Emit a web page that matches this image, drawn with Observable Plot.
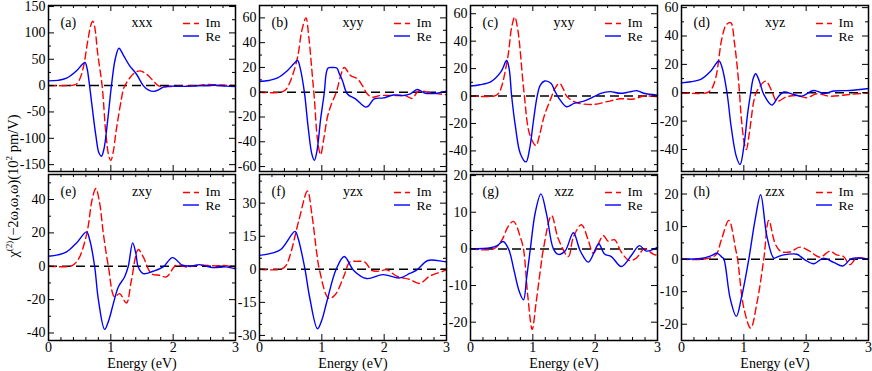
<!DOCTYPE html>
<html><head><meta charset="utf-8">
<script src="https://cdn.jsdelivr.net/npm/d3@7"></script>
<script src="https://cdn.jsdelivr.net/npm/@observablehq/plot@0.6"></script>
<style>
body{margin:0;background:#fff;}
#chart{position:relative;width:872px;height:371px;font-family:'Liberation Serif','Times New Roman','DejaVu Serif',serif;background:#fff;overflow:hidden;}
#chart svg{position:absolute;overflow:visible;}
#chart svg text{font-family:'Liberation Serif','Times New Roman','DejaVu Serif',serif;}
#ylab{position:absolute;left:13px;top:186px;transform:translate(-50%,-50%) rotate(-90deg);white-space:nowrap;font-size:14.5px;line-height:14px;font-family:'Liberation Serif','Times New Roman','DejaVu Serif',serif;}
#ylab sup{font-size:9px;vertical-align:6px;line-height:0;}
</style></head><body>
<div id="chart"><div id="ylab">χ<sup>(2)</sup>(−2ω,ω,ω)(10<sup>2</sup> pm/V)</div></div>
<script>
// ---- data: [energy (eV), value (10^2 pm/V)] ----
const reA = [[0,9],[0.15,10],[0.29,14],[0.45,28],[0.54,40],[0.585,44],[0.62,32],[0.65,8],[0.7,-40],[0.76,-95],[0.81,-128],[0.85,-134],[0.89,-120],[0.95,-65],[1.01,0],[1.07,50],[1.13,71],[1.2,58],[1.3,38],[1.41,22],[1.52,0],[1.6,-8],[1.69,-11],[1.78,-7],[1.84,-3],[1.95,-1],[2.1,-1.5],[2.3,-1],[2.5,0],[2.7,0.5],[2.85,-1],[3,-2]];
const imA = [[0,0],[0.3,0],[0.4,1],[0.45,3],[0.5,12],[0.56,35],[0.63,85],[0.68,115],[0.71,122],[0.74,112],[0.79,60],[0.86,0],[0.92,-90],[0.97,-135],[1.0,-142],[1.04,-125],[1.08,-90],[1.12,-60],[1.17,-25],[1.21,-4],[1.3,14],[1.38,24],[1.46,28],[1.53,25],[1.6,19],[1.68,9],[1.76,0],[1.85,-2],[2.0,-1.5],[2.2,-1],[2.4,0.5],[2.55,2],[2.7,1.5],[2.85,1],[3,0]];
const reB = [[0,8.6],[0.15,9.5],[0.29,11.6],[0.45,17.6],[0.55,23],[0.61,25.7],[0.65,20],[0.72,0],[0.78,-28],[0.84,-50],[0.88,-55],[0.92,-48],[0.98,-22],[1.04,0],[1.07,15],[1.1,19.5],[1.17,20],[1.24,19.5],[1.28,15],[1.33,9.5],[1.41,-1.4],[1.54,-5.4],[1.63,-9.5],[1.7,-12],[1.75,-11],[1.84,-5.4],[1.99,-4.6],[2.15,-2.2],[2.31,-2.7],[2.42,-1.4],[2.53,2.2],[2.66,-0.8],[2.85,-0.8],[3,0.8]];
const imB = [[0,0],[0.35,0],[0.42,2],[0.5,9.5],[0.61,28],[0.68,50],[0.745,60],[0.79,45],[0.85,12],[0.88,-5],[0.93,-38],[0.98,-50.5],[1.03,-38],[1.09,-20],[1.14,-11.6],[1.24,1.4],[1.3,13],[1.36,20],[1.46,13.5],[1.57,10.8],[1.65,5.4],[1.73,-1.4],[1.81,-4],[1.94,-2.7],[2.21,-2.7],[2.35,-3],[2.45,-5],[2.55,0.8],[2.74,-0.5],[2.9,-1.5],[3,-2]];
const reC = [[0,7.3],[0.15,8.2],[0.33,10.5],[0.49,17.8],[0.58,25.9],[0.62,20],[0.66,0],[0.72,-22],[0.8,-42],[0.89,-48],[0.95,-38],[1.01,-18],[1.07,0],[1.12,8],[1.19,11],[1.29,9.3],[1.35,4],[1.42,-1.7],[1.54,-7.8],[1.66,-5.4],[1.82,-3.7],[1.98,-0.5],[2.09,2],[2.24,3.2],[2.4,2],[2.55,3],[2.67,3.9],[2.78,2],[3,0.7]];
const imC = [[0,0],[0.38,0],[0.44,1.5],[0.49,5.6],[0.6,28.8],[0.66,50],[0.71,57.6],[0.76,48],[0.86,2],[0.95,-28],[1.05,-36],[1.11,-28],[1.18,-15],[1.29,-1.7],[1.36,6],[1.43,9.3],[1.49,5],[1.55,-0.5],[1.71,-4.9],[1.98,-6.1],[2.19,-4.1],[2.4,-2],[2.62,-2.2],[2.78,0],[3,-0.5]];
const reD = [[0,7],[0.15,7.8],[0.31,9.4],[0.47,15.3],[0.6,22.4],[0.65,18],[0.73,0],[0.8,-25],[0.88,-45],[0.94,-50.6],[1.0,-38],[1.06,-15],[1.11,0],[1.15,10],[1.19,13.4],[1.25,8],[1.32,-1.2],[1.45,-8.7],[1.55,-3],[1.64,0.5],[1.8,-1.2],[1.93,-2.4],[2.12,1.6],[2.28,-0.5],[2.44,1.2],[2.7,1.6],[3,3]];
const imD = [[0,0],[0.41,0],[0.48,2.5],[0.55,10.6],[0.65,38.8],[0.72,48],[0.79,49.4],[0.85,35],[0.92,6],[0.96,-18],[1.01,-36],[1.04,-40],[1.09,-28],[1.16,-5.9],[1.21,1.2],[1.35,8.2],[1.44,2],[1.53,-5.9],[1.69,-2.8],[1.85,-2],[2.01,-3.5],[2.17,-0.7],[2.38,-2.4],[2.7,-1.2],[3,0]];
const reE = [[0,6],[0.15,6.8],[0.29,8.6],[0.45,14],[0.61,20.6],[0.66,16],[0.74,0],[0.8,-20],[0.9,-37.8],[0.97,-32],[1.04,-22.4],[1.12,-12.4],[1.22,-6.4],[1.28,0],[1.35,14],[1.4,8],[1.44,-0.4],[1.52,-4.4],[1.68,-3],[1.84,-0.4],[1.99,5.2],[2.15,0.6],[2.31,0.2],[2.42,1],[2.63,-0.8],[2.85,-0.4],[3,-1.6]];
const imE = [[0,0],[0.35,0],[0.42,1.5],[0.5,5.6],[0.62,20.6],[0.7,40],[0.76,46.6],[0.82,38],[0.88,19.6],[0.96,0],[1.06,-18.4],[1.14,-16.4],[1.25,-22],[1.33,-8.4],[1.44,10],[1.52,5.6],[1.65,-4.4],[1.78,-5.4],[1.89,-6.4],[2.05,0.6],[2.21,-0.4],[2.42,0.6],[2.69,0.2],[2.85,0.4],[3,-1.4]];
const reF = [[0,6.3],[0.15,7],[0.34,9],[0.57,17.2],[0.62,14],[0.73,0],[0.8,-12],[0.93,-27],[1.0,-23],[1.08,-14.7],[1.23,0],[1.36,5.8],[1.51,-0.5],[1.72,-4.2],[1.98,-2.4],[2.25,-3.9],[2.41,-1.9],[2.52,-0.4],[2.7,4],[2.94,3.6],[3,3.4]];
const imF = [[0,0],[0.34,0],[0.42,1.5],[0.49,6.3],[0.63,22],[0.77,35.5],[0.84,25],[0.92,7],[0.96,0],[1.11,-13.2],[1.21,-11.7],[1.35,-3.4],[1.45,3.3],[1.56,3.6],[1.69,3.3],[1.8,-0.5],[1.93,-0.8],[2.04,-0.2],[2.2,-3.1],[2.41,-4.6],[2.57,-6.4],[2.73,-3.1],[2.94,-0.9],[3,-0.2]];
const reG = [[0,0],[0.32,0.3],[0.43,0.9],[0.52,2],[0.61,0],[0.7,-6],[0.78,-11.5],[0.85,-13.9],[0.9,-8],[0.96,0],[1.04,10],[1.13,15],[1.22,9.5],[1.33,0],[1.41,-1.5],[1.52,-0.5],[1.65,4.4],[1.76,-0.5],[1.89,-3.6],[2.02,0.5],[2.06,1.4],[2.15,-1.4],[2.26,-2.1],[2.42,-4.8],[2.58,-1.8],[2.71,0.9],[2.82,-0.6],[3,0.4]];
const imG = [[0,0],[0.37,0],[0.5,2.3],[0.6,6],[0.69,7.5],[0.8,3.2],[0.85,0],[0.92,-13],[0.99,-22],[1.05,-15],[1.12,-5.9],[1.17,0],[1.3,9.1],[1.41,2.7],[1.57,-2.1],[1.65,3.2],[1.78,6.6],[1.89,2.3],[1.97,-1.2],[2.13,3.6],[2.21,2.1],[2.31,2.5],[2.42,-0.9],[2.55,-3.2],[2.66,-2.5],[2.79,0],[2.93,-1.4],[3,-1.8]];
const reH = [[0,0],[0.31,0.2],[0.47,1],[0.57,1.8],[0.65,0.6],[0.68,0],[0.78,-12],[0.88,-17.6],[0.96,-12],[1.08,0],[1.18,12],[1.27,19.8],[1.37,7],[1.48,0.3],[1.53,0.6],[1.64,1.3],[1.85,1.5],[1.98,-0.2],[2.12,-1.4],[2.28,0.3],[2.44,-1],[2.59,-2.1],[2.7,-0.2],[2.76,0.3],[3,0]];
const imH = [[0,0],[0.36,0],[0.55,1.3],[0.64,6],[0.76,11.9],[0.87,2.9],[0.9,0],[1.0,-15],[1.11,-21.2],[1.21,-13.5],[1.32,0],[1.4,11.9],[1.5,4.9],[1.59,2.4],[1.74,2.2],[1.9,3.7],[2.06,2.4],[2.22,0.6],[2.38,2.4],[2.49,1.3],[2.6,0.8],[2.7,-1.7],[2.81,0.3],[3,0]];

// ---- tick labels / axis ranges ----
const energyTicks = [0, 1, 2, 3];
const ticksA = [-150, -100, -50, 0, 50, 100, 150];
const ticksB = [-60, -40, -20, 0, 20, 40, 60];
const ticksC = [-40, -20, 0, 20, 40, 60];
const ticksD = [-40, -20, 0, 20, 40, 60];
const ticksE = [-40, -20, 0, 20, 40];
const ticksF = [-30, -15, 0, 15, 30];
const ticksG = [-20, -10, 0, 10, 20];
const ticksH = [-20, -10, 0, 10, 20];
const panelLabels = ["(a)", "(b)", "(c)", "(d)", "(e)", "(f)", "(g)", "(h)"];
const components = ["xxx", "xyy", "yxy", "xyz", "zxy", "yzx", "xzz", "zzx"];
const seriesNames = ["Im", "Re"];
const xLabel = "Energy (eV)";

const panels = [
  {re: reA, im: imA, ticks: ticksA, minor: 25, dom: [-163, 152]},
  {re: reB, im: imB, ticks: ticksB, minor: 10, dom: [-64, 70]},
  {re: reC, im: imC, ticks: ticksC, minor: 10, dom: [-55, 66]},
  {re: reD, im: imD, ticks: ticksD, minor: 10, dom: [-55.5, 61.5]},
  {re: reE, im: imE, ticks: ticksE, minor: 10, dom: [-44.5, 55]},
  {re: reF, im: imF, ticks: ticksF, minor: 5, dom: [-32.3, 43]},
  {re: reG, im: imG, ticks: ticksG, minor: 5, dom: [-25, 20.3]},
  {re: reH, im: imH, ticks: ticksH, minor: 5, dom: [-25, 26]}
];

// ---- layout ----
const FONT = "'Liberation Serif', 'Times New Roman', 'DejaVu Serif', serif";
const frameLefts = [48, 258.5, 469.5, 681];
const frameTops = [5, 174];
const W = 187, H = 166;
const RED = "#ff0000", BLUE = "#0000ff";
const chart = document.getElementById("chart");

panels.forEach((p, i) => {
  const row = Math.floor(i / 4), col = i % 4;
  const mL = 34, mR = 4, mT = 4, mB = row ? 34 : 4;
  const [y0, y1] = p.dom;
  const ux = 3 / W, uy = (y1 - y0) / H;
  const xAt = px => px * ux;
  const yAt = px => y1 - px * uy;
  const majorLen = 6, minorLen = 3;
  const xMinor = d3.range(0.2, 3, 0.2).filter(v => Math.abs(v - Math.round(v)) > 1e-6);
  const yMinor = d3.range(Math.ceil(y0 / p.minor) * p.minor, y1, p.minor).filter(v => !p.ticks.includes(v));
  const tk = {stroke: "black", strokeWidth: 1};
  const txt = {fontSize: 14, fontFamily: FONT, lineAnchor: "middle"};
  const marks = [
    Plot.ruleY([0], {stroke: "black", strokeWidth: 1.5, strokeDasharray: "9,5"}),
    Plot.line(p.im, {x: d => d[0], y: d => d[1], stroke: RED, strokeWidth: 1.4, strokeDasharray: "7,4", curve: "catmull-rom"}),
    Plot.line(p.re, {x: d => d[0], y: d => d[1], stroke: BLUE, strokeWidth: 1.4, curve: "catmull-rom"}),
    Plot.ruleY(p.ticks, {x1: 0, x2: majorLen * ux, ...tk}),
    Plot.ruleY(p.ticks, {x1: 3 - majorLen * ux, x2: 3, ...tk}),
    Plot.ruleY(yMinor, {x1: 0, x2: minorLen * ux, ...tk}),
    Plot.ruleY(yMinor, {x1: 3 - minorLen * ux, x2: 3, ...tk}),
    Plot.ruleX(energyTicks, {y1: y0, y2: y0 + majorLen * uy, ...tk}),
    Plot.ruleX(energyTicks, {y1: y1 - majorLen * uy, y2: y1, ...tk}),
    Plot.ruleX(xMinor, {y1: y0, y2: y0 + minorLen * uy, ...tk}),
    Plot.ruleX(xMinor, {y1: y1 - minorLen * uy, y2: y1, ...tk}),
    Plot.frame({stroke: "black", strokeWidth: 1.5}),
    Plot.axisY({ticks: p.ticks, tickSize: 0, tickPadding: 3, tickFormat: d => String(d), label: null, fontSize: 14, fontFamily: FONT}),
    Plot.text([panelLabels[i]], {text: d => d, frameAnchor: "top-left", dx: 12, dy: 17, textAnchor: "start", ...txt}),
    Plot.text([components[i]], {text: d => d, frameAnchor: "top", dy: 17, textAnchor: "middle", ...txt}),
    Plot.ruleY([yAt(18)], {x1: xAt(135), x2: xAt(151), stroke: RED, strokeWidth: 1.4, strokeDasharray: "7,4"}),
    Plot.ruleY([yAt(30.5)], {x1: xAt(135), x2: xAt(151), stroke: BLUE, strokeWidth: 1.4}),
    Plot.text([seriesNames[0]], {text: d => d, frameAnchor: "top-left", dx: 157, dy: 17.5, textAnchor: "start", ...txt, fontSize: 13.5}),
    Plot.text([seriesNames[1]], {text: d => d, frameAnchor: "top-left", dx: 157, dy: 31, textAnchor: "start", ...txt, fontSize: 13.5})
  ];
  if (row) {
    marks.push(Plot.axisX({ticks: energyTicks, tickSize: 0, tickPadding: 2, tickFormat: d => String(d), label: null, fontSize: 14, fontFamily: FONT}));
    marks.push(Plot.text([xLabel], {text: d => d, frameAnchor: "bottom", dy: 23.5, textAnchor: "middle", ...txt}));
  }
  const svg = Plot.plot({
    width: W + mL + mR,
    height: H + mT + mB,
    marginLeft: mL, marginRight: mR, marginTop: mT, marginBottom: mB,
    x: {domain: [0, 3], axis: row ? undefined : null},
    y: {domain: p.dom, axis: null},
    style: {fontFamily: FONT, fontSize: "14px", background: "transparent", overflow: "visible"},
    marks
  });
  svg.style.left = (frameLefts[col] - mL) + "px";
  svg.style.top = (frameTops[row] - mT) + "px";
  chart.appendChild(svg);
});
</script>
</body></html>
